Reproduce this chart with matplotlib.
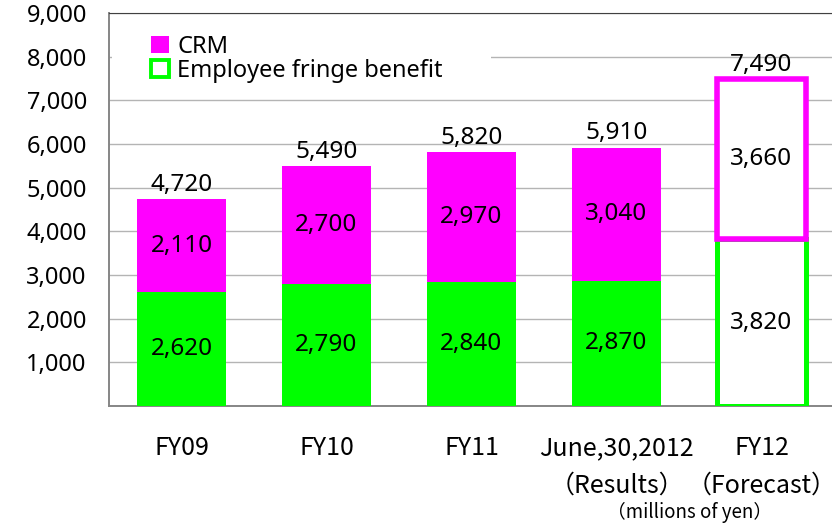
import matplotlib
matplotlib.use('Agg')
import matplotlib.pyplot as plt
from matplotlib.patches import Patch, Rectangle
from matplotlib.ticker import FuncFormatter

categories = ["FY09", "FY10", "FY11", "June,30,2012\n（Results）", "FY12\n（Forecast）"]
fringe = [2620, 2790, 2840, 2870, 3820]
crm = [2110, 2700, 2970, 3040, 3660]
totals = [4720, 5490, 5820, 5910, 7490]
forecast = [False, False, False, False, True]

GREEN = "#00ff00"
MAGENTA = "#ff00ff"
NUM_FONT = ["Noto Sans", "DejaVu Sans"]
CAT_FONT = ["Liberation Sans Narrow", "Noto Sans CJK JP", "DejaVu Sans"]

fig = plt.figure(figsize=(8.32, 5.24), dpi=100)
fig.patch.set_facecolor("white")
ax = fig.add_axes([109 / 832, 1 - 406 / 524, (834 - 109) / 832, (406 - 13) / 524])

x = list(range(len(categories)))
width = 0.62

for i in x:
    if forecast[i]:
        ax.bar(i, fringe[i], width, color="white", edgecolor=GREEN, linewidth=3.6, zorder=3)
        ax.bar(i, crm[i], width, bottom=fringe[i], color="white", edgecolor=MAGENTA,
               linewidth=4.0, zorder=4)
    else:
        ax.bar(i, fringe[i], width, color=GREEN, linewidth=0, zorder=3)
        ax.bar(i, crm[i], width, bottom=fringe[i], color=MAGENTA, linewidth=0, zorder=3)

    ax.text(i, fringe[i] / 2, f"{fringe[i]:,}", ha="center", va="center",
            fontsize=17.5, family=NUM_FONT, zorder=5)
    ax.text(i, fringe[i] + crm[i] / 2, f"{crm[i]:,}", ha="center", va="center",
            fontsize=17.5, family=NUM_FONT, zorder=5)
    ax.text(i, fringe[i] + crm[i] + 60, f"{totals[i]:,}", ha="center", va="bottom",
            fontsize=17.5, family=NUM_FONT, zorder=5)

ax.set_xlim(-0.5, 4.5)
ax.set_ylim(0, 9000)
ax.set_yticks(range(0, 9001, 1000))
ax.yaxis.set_major_formatter(FuncFormatter(lambda v, p: "" if v == 0 else f"{int(v):,}"))
ax.tick_params(axis="y", length=0, pad=16, labelsize=17)
for lab in ax.get_yticklabels():
    lab.set_family(NUM_FONT)

ax.set_xticks(x)
ax.set_xticklabels(categories, fontsize=18, family=CAT_FONT, linespacing=1.55)
ax.tick_params(axis="x", length=0, pad=21)

ax.grid(axis="y", color="#b4b4b4", linewidth=1.0, zorder=0)
ax.set_axisbelow(True)
for side in ["left", "bottom"]:
    ax.spines[side].set_color("#868686")
    ax.spines[side].set_linewidth(1.4)
ax.spines["top"].set_color("#404040")
ax.spines["top"].set_linewidth(0.8)
ax.spines["right"].set_visible(False)

# white box behind the legend hides the gridline
ax.add_patch(Rectangle((0.004, 0.79), 0.523, 0.205, transform=ax.transAxes,
                       facecolor="white", edgecolor="none", zorder=1.5))
handles = [Patch(facecolor=MAGENTA, edgecolor=MAGENTA, linewidth=0),
           Patch(facecolor="white", edgecolor=GREEN, linewidth=2.8)]
leg = ax.legend(handles, ["CRM", "Employee fringe benefit"], loc="upper left",
                bbox_to_anchor=(0.058, 0.945), frameon=False,
                handlelength=0.75, handleheight=0.75, handletextpad=0.35,
                labelspacing=0.0, borderpad=0, borderaxespad=0,
                prop={"family": NUM_FONT, "size": 17})
leg.set_zorder(6)

fig.text(690 / 832, 1 - 512 / 524, "（millions of yen）", ha="center", va="center",
         fontsize=13.5, family=CAT_FONT)

fig.savefig("out.png", dpi=100, facecolor="white")
